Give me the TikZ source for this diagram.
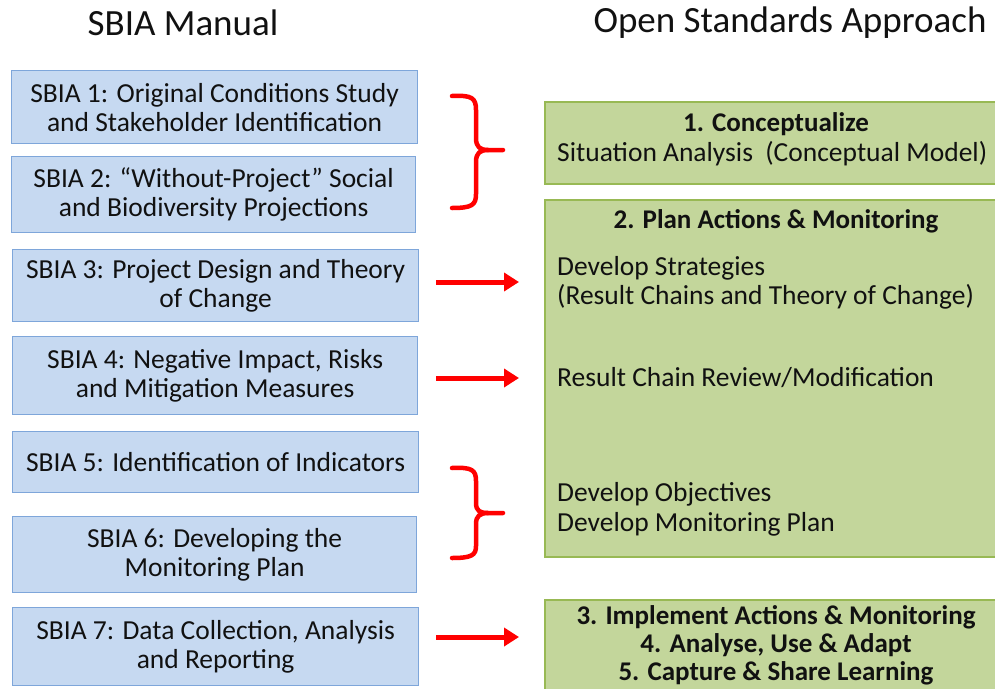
\documentclass[tikz,border=0pt]{standalone}
\usepackage{fontspec}
\setmainfont{Carlito}
\usetikzlibrary{arrows.meta}
\definecolor{bluefill}{HTML}{C6D9F1}
\definecolor{blueline}{HTML}{7EA6DA}
\definecolor{greenfill}{HTML}{C3D69B}
\definecolor{greenline}{HTML}{98B954}
\definecolor{txt}{HTML}{111111}
\tikzset{
  sbox/.style={draw=blueline, fill=bluefill, line width=1.2pt, anchor=north west,
    align=center, inner sep=0pt, text=txt, font=\fontsize{27.5}{29}\selectfont},
  gfill/.style={fill=greenfill},
  gline/.style={draw=greenline, line width=1.5pt},
  gtxt/.style={anchor=west, inner sep=0pt, text=txt, font=\fontsize{27.5}{29}\selectfont},
  gbold/.style={inner sep=0pt, text=txt, align=center, font=\fontsize{27}{30}\selectfont\bfseries},
  title/.style={inner sep=0pt, text=txt, font=\fontsize{37}{40}\selectfont},
  redarrow/.style={draw=red, line width=5pt, -{Triangle[length=15pt,width=18pt]}},
  brace/.style={draw=red, line width=4.5pt, line cap=round, line join=round}
}
\begin{document}
\begin{tikzpicture}[x=1pt,y=-1pt]
\useasboundingbox (0,0) rectangle (995,688);

% titles
\node[title] (t1) at (183,23) {SBIA Manual};
\node[title] (t2) at (790,23) {Open Standards Approach};

% left boxes
\node[sbox, minimum width=406pt, minimum height=73pt] (s1) at (11,70)
  {SBIA 1: Original Conditions Study\\and Stakeholder Identification};
\node[sbox, minimum width=404pt, minimum height=76pt] (s2) at (11,156)
  {SBIA 2: “Without-Project” Social\\and Biodiversity Projections};
\node[sbox, minimum width=406pt, minimum height=72pt] (s3) at (12,249)
  {SBIA 3: Project Design and Theory\\of Change};
\node[sbox, minimum width=405pt, minimum height=78pt] (s4) at (12,336)
  {SBIA 4: Negative Impact, Risks\\and Mitigation Measures};
\node[sbox, minimum width=406pt, minimum height=61pt] (s5) at (12,431)
  {SBIA 5: Identification of Indicators};
\node[sbox, minimum width=404pt, minimum height=76pt] (s6) at (12,516)
  {SBIA 6: Developing the\\Monitoring Plan};
\node[sbox, minimum width=406pt, minimum height=78pt] (s7) at (12,607)
  {SBIA 7: Data Collection, Analysis\\and Reporting};

% right boxes
\fill[gfill] (545,102) rectangle (1000,184);
\draw[gline] (1000,102) -- (545,102) -- (545,184) -- (1000,184);
\fill[gfill] (545,200) rectangle (1000,557);
\draw[gline] (1000,200) -- (545,200) -- (545,557) -- (1000,557);
\fill[gfill] (545,600) rectangle (1000,695);
\draw[gline] (1000,600) -- (545,600) -- (545,695);

\node[gbold] (c1) at (776,124) {1. Conceptualize};
\node[gtxt] (c1b) at (557,154) {Situation Analysis\ \ (Conceptual Model)};

\node[gbold] (c2) at (776,221) {2. Plan Actions \& Monitoring};
\node[gtxt] (c2a) at (557,268) {Develop Strategies};
\node[gtxt] (c2b) at (557,297) {(Result Chains and Theory of Change)};
\node[gtxt] (c2c) at (557,378) {Result Chain Review/Modification};
\node[gtxt] (c2d) at (557,494) {Develop Objectives};
\node[gtxt] (c2e) at (557,524) {Develop Monitoring Plan};

\node[gbold] (c3) at (776,617) {3. Implement Actions \& Monitoring};
\node[gbold] (c4) at (776,645) {4. Analyse, Use \& Adapt};
\node[gbold] (c5) at (776,673) {5. Capture \& Share Learning};

% arrows
\coordinate (a3s) at (436,282); \coordinate (a3e) at (519,282);
\coordinate (a4s) at (436,378); \coordinate (a4e) at (519,378);
\coordinate (a7s) at (436,637); \coordinate (a7e) at (519,637);
\draw[redarrow] (a3s) -- (a3e);
\draw[redarrow] (a4s) -- (a4e);
\draw[redarrow] (a7s) -- (a7e);

% braces
\draw[brace] (452,96) .. controls (472,95) and (476,98) .. (476,110) -- (476,138)
  .. controls (476,147) and (480,150) .. (488,150) -- (503,150);
\draw[brace] (488,150) .. controls (480,150) and (476,153) .. (476,162) -- (476,194)
  .. controls (476,205) and (472,208) .. (452,208);
\draw[brace] (452,468) .. controls (472,467) and (476,470) .. (476,481) -- (476,503)
  .. controls (476,511) and (480,513) .. (488,513) -- (503,513);
\draw[brace] (488,513) .. controls (480,513) and (476,516) .. (476,524) -- (476,546)
  .. controls (476,555) and (472,558) .. (452,558);
\end{tikzpicture}
\end{document}
